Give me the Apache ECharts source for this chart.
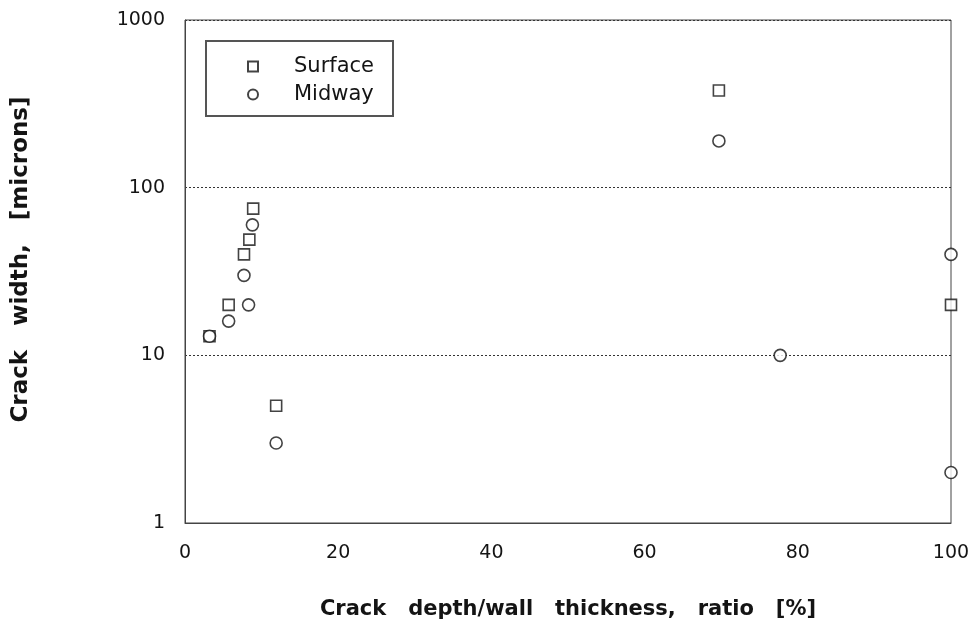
<!DOCTYPE html>
<html>
<head>
<meta charset="utf-8">
<script src="https://cdn.jsdelivr.net/npm/echarts@6/dist/echarts.min.js"></script>
<style>
  html, body { margin: 0; padding: 0; background: #fff; }
  #chart { width: 977px; height: 625px; }
</style>
</head>
<body>
<div id="chart"></div>
<script>
// Crack measurements: depth ratio (%) against crack width (microns)
const surfaceDepth = [3.2, 5.7, 7.7, 8.4, 8.9, 11.9, 69.7, 100];
const surfaceWidth = [13, 20, 40, 49, 75, 5, 380, 20];
const midwayDepth = [3.2, 5.7, 7.7, 8.3, 8.8, 11.9, 69.7, 77.7, 100, 100];
const midwayWidth = [13, 16, 30, 20, 60, 3, 190, 10, 40, 2];

const seriesNames = ['Surface', 'Midway'];
const xTitle = 'Crack   depth/wall   thickness,   ratio   [%]';
const yTitle = 'Crack   width,   [microns]';

const pairs = (xs, ys) => xs.map((x, i) => [x, ys[i]]);

const ink = '#141414';
const textFont = 'DejaVu Sans';

const chart = echarts.init(document.getElementById('chart'), null, { renderer: 'canvas' });

chart.setOption({
  backgroundColor: '#ffffff',
  animation: false,
  grid: {
    left: 185, right: 26, top: 20, bottom: 102,
    show: true, borderColor: '#444', borderWidth: 1, backgroundColor: 'transparent'
  },
  legend: {
    left: 206, top: 41,
    orient: 'vertical',
    data: seriesNames,
    itemWidth: 10, itemHeight: 10, itemGap: 7,
    padding: [15, 19, 11, 41],
    borderColor: '#555', borderWidth: 2,
    backgroundColor: '#fff',
    textStyle: { fontFamily: textFont, fontSize: 21, color: ink, lineHeight: 20, padding: [0, 0, 0, 31] }
  },
  xAxis: {
    type: 'value',
    min: 0, max: 100, interval: 20,
    name: xTitle,
    nameLocation: 'middle',
    nameGap: 76,
    nameTextStyle: { fontFamily: textFont, fontWeight: 'bold', fontSize: 21, color: ink },
    axisLine: { show: true, lineStyle: { color: '#444', width: 1 } },
    axisTick: { show: false },
    axisLabel: { margin: 21, fontFamily: textFont, fontSize: 19, color: ink },
    splitLine: { show: false }
  },
  yAxis: {
    type: 'log',
    logBase: 10,
    min: 1, max: 1000,
    name: yTitle,
    nameLocation: 'middle',
    nameGap: 152,
    nameRotate: 90,
    nameTextStyle: { fontFamily: textFont, fontWeight: 'bold', fontSize: 23, color: ink, padding: [0, 0, 0, 24] },
    axisLine: { show: true, lineStyle: { color: '#444', width: 1 } },
    axisTick: { show: false },
    axisLabel: {
      margin: 20, fontFamily: textFont, fontSize: 19, color: ink,
      formatter: (v) => String(v)
    },
    splitLine: { show: true, lineStyle: { color: '#333', width: 1, type: [2, 2] } }
  },
  series: [
    {
      name: seriesNames[0],
      type: 'scatter',
      symbol: 'rect',
      symbolSize: 11,
      clip: false,
      data: pairs(surfaceDepth, surfaceWidth),
      itemStyle: { color: '#fff', borderColor: ink, borderWidth: 1.6 }
    },
    {
      name: seriesNames[1],
      type: 'scatter',
      symbol: 'circle',
      symbolSize: 12,
      clip: false,
      data: pairs(midwayDepth, midwayWidth),
      itemStyle: { color: '#fff', borderColor: ink, borderWidth: 1.6 }
    }
  ]
});
</script>
</body>
</html>
